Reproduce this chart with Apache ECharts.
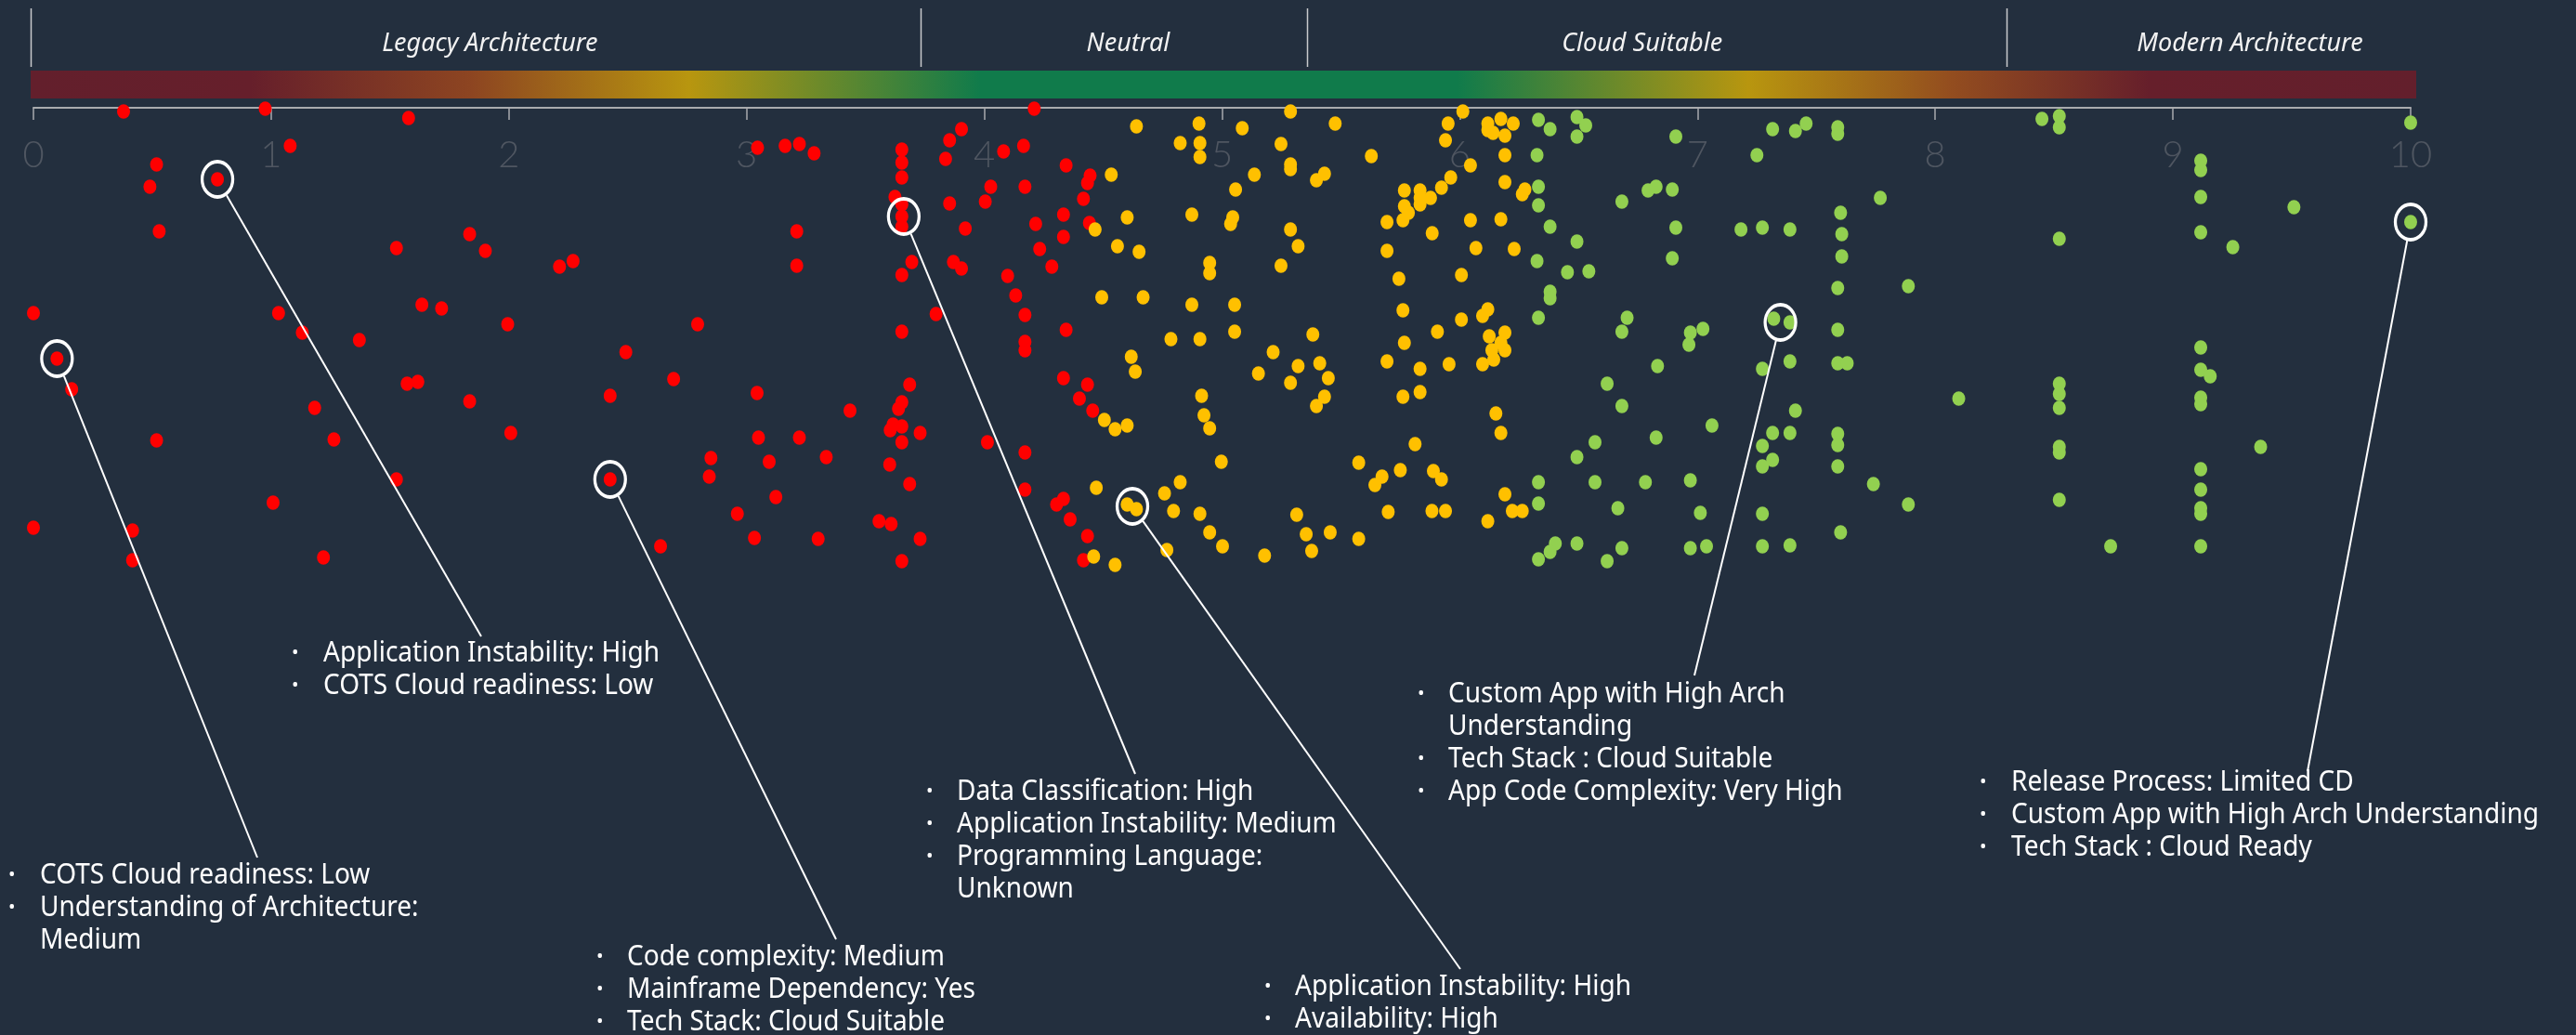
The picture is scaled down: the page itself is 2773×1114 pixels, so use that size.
<!DOCTYPE html>
<html>
<head>
<meta charset="utf-8">
<script src="https://cdn.jsdelivr.net/npm/echarts@6/dist/echarts.min.js"></script>
<style>
html,body{margin:0;padding:0;background:#232f3e;}
#chart{width:2773px;height:1114px;}
</style>
</head>
<body>
<div id="chart"></div>
<script>
// ---------- DATA (x = score 0..10, y = vertical jitter offset below the axis) ----------
const tickLabels = ['0','1','2','3','4','5','6','7','8','9','10'];

const redPoints = [
[0.379,4],[0.975,1],[1.578,11],[1.08,41],[0.518,61],[0.774,77],[0.49,85],[0.529,133],[1.835,136],[1.527,151],
[1.901,154],[2.213,171],[2.27,165],[0.0,221],[1.031,221],[1.634,212],[1.717,216],[1.995,233],[1.131,242],[1.371,250],
[0.099,270],[0.161,303],[1.572,297],[1.617,295],[1.183,323],[1.835,316],[2.008,350],[1.264,357],[0.518,358],[1.527,400],
[1.008,425],[0.0,452],[0.417,455],[0.417,487],[1.22,484],
[3.046,43],[3.162,41],[3.222,39],[3.284,49],[3.653,45],[3.653,59],[3.653,75],[3.624,96],[3.653,104],[3.653,117],
[3.653,128],[3.904,23],[3.854,35],[3.837,55],[4.081,47],[4.165,41],[4.21,1],[4.344,62],[4.027,85],[4.171,85],
[4.004,101],[3.854,103],[3.92,130],[4.216,125],[4.333,115],[4.445,73],[4.434,81],[4.417,98],[4.442,124],[4.333,139],
[4.233,152],[4.284,171],[3.87,166],[3.904,173],[3.695,166],[3.653,180],[3.211,133],[3.211,170],[4.098,181],[4.132,202],
[4.171,223],[3.797,222],[3.653,241],[4.344,239],[4.171,252],[4.171,261],[2.794,233],[2.492,263],[2.693,292],[2.426,310],
[3.044,307],[3.435,326],[3.686,298],[3.653,317],[3.639,324],[3.616,341],[3.604,347],[3.653,343],[3.73,350],[3.653,360],
[3.05,355],[3.222,355],[2.85,377],[2.843,397],[3.095,381],[3.335,376],[2.426,400],[3.123,419],[2.961,437],[2.638,472],
[3.033,463],[3.301,464],[3.557,445],[3.608,448],[3.73,464],[3.653,488],[3.602,384],[3.686,405],[4.013,360],[4.171,371],
[4.171,411],[4.333,291],[4.434,298],[4.4,313],[4.456,326],[4.333,421],[4.304,427],[4.361,443],[4.434,461],[4.417,487]
];

const yellowPoints = [
[4.534,72],[4.466,131],[4.56,149],[4.494,204],[4.505,336],[4.471,409],[4.46,483],[4.55,346],[4.55,492],
[4.64,20],[4.903,17],[4.824,38],[4.907,38],[4.907,53],[5.085,22],[5.288,4],[5.476,17],[5.248,39],[5.288,61],
[5.288,66],[5.136,72],[5.431,71],[5.397,78],[5.057,88],[5.628,52],[4.601,118],[4.873,115],[5.045,118],[5.036,125],
[5.288,131],[5.32,149],[4.651,155],[4.948,167],[4.948,178],[5.248,170],[4.668,204],[4.873,212],[5.053,212],[5.053,241],
[4.785,249],[4.907,249],[5.382,244],[4.618,268],[4.635,284],[5.215,263],[5.153,286],[5.32,278],[5.411,275],[5.447,291],
[5.288,296],[5.431,311],[5.397,321],[4.914,310],[4.924,331],[4.948,345],[4.601,342],[4.997,381],[4.824,403],[4.758,415],
[4.601,427],[4.64,432],[4.796,434],[4.907,437],[4.948,457],[5.002,472],[4.768,476],[5.179,482],[5.314,438],[5.354,459],
[5.377,477],[5.455,457],[5.575,464],[5.575,382],[5.673,397],[5.643,406],[5.75,390],[5.812,362],[5.889,391],[5.923,400],
[5.699,435],[5.883,434],[5.94,434],[6.118,445],[6.19,416],[6.221,434],[6.263,434],[6.152,329],[6.173,350],[5.761,311],
[5.833,306],[5.694,273],[5.833,281],[5.955,276],[5.767,253],[5.906,241],[6.007,228],[6.096,224],[6.118,217],[6.124,246],
[6.19,242],[6.135,261],[6.19,261],[6.096,276],[6.143,271],[6.173,253],[5.761,218],[5.744,184],[5.694,154],[5.694,123],
[5.761,121],[5.784,113],[5.767,106],[5.767,89],[5.833,89],[5.833,104],[5.833,97],[5.877,97],[5.923,86],[5.962,75],
[6.045,62],[5.884,135],[6.045,121],[6.173,120],[6.068,151],[6.229,152],[6.007,180],[6.19,80],[6.263,93],[6.274,88],
[6.19,51],[5.94,35],[5.951,17],[6.013,4],[6.118,17],[6.118,24],[6.14,27],[6.173,12],[6.225,17],[6.19,30]
];

const greenPoints = [
[6.331,13],[6.38,23],[6.493,10],[6.53,19],[6.493,31],[6.325,51],[6.909,31],[6.331,85],[6.331,105],[6.38,128],
[6.682,101],[6.792,89],[6.826,85],[6.894,88],[6.909,129],[6.894,162],[6.493,144],[6.325,165],[6.453,177],[6.543,176],
[6.38,198],[6.38,205],[6.331,226],[6.704,226],[6.682,241],[6.832,278],[6.62,297],[6.682,321],[6.826,355],[6.569,360],
[6.493,376],[6.331,403],[6.569,403],[6.781,403],[6.331,426],[6.665,431],[6.402,469],[6.38,478],[6.331,486],[6.493,469],
[6.682,474],[6.62,488],
[7.316,23],[7.412,25],[7.457,17],[7.59,21],[7.59,28],[7.25,51],[8.449,12],[8.522,9],[8.522,21],[9.117,57],
[9.117,67],[9.117,96],[9.117,134],[9.252,150],[8.522,141],[7.769,97],[7.602,113],[7.607,136],[7.607,160],[7.59,194],
[7.887,192],[7.183,131],[7.273,129],[7.389,131],[7.321,227],[7.389,231],[7.59,239],[7.023,238],[6.97,242],[6.964,255],
[7.389,273],[7.273,281],[7.59,275],[7.63,275],[8.099,313],[8.522,297],[8.522,308],[8.522,323],[9.117,258],[9.117,282],
[9.157,289],[9.117,312],[9.117,319],[7.412,326],[7.061,342],[7.316,350],[7.389,350],[7.59,351],[7.59,363],[7.273,364],
[7.316,379],[7.273,386],[7.59,386],[8.522,365],[8.522,371],[6.97,401],[7.74,405],[7.887,427],[8.522,422],[9.117,389],
[9.117,411],[9.117,431],[9.117,437],[7.012,436],[7.273,437],[7.602,457],[6.97,474],[7.038,472],[7.273,472],[7.389,471],
[8.738,472],[9.117,472],[10,16],[10,123],[9.509,107],[9.369,365]
];

// highlighted (ringed) applications
const ringPoints = [[0.099,270],[0.774,77],[2.426,400],[3.661,117],[4.623,429],[7.349,231],[10,123]];

// annotation texts: each annotation = list of bullets, each bullet = list of wrapped lines
const annotationTexts = [
  [['COTS Cloud readiness: Low'],['Understanding of Architecture:','Medium']],
  [['Application Instability: High'],['COTS Cloud readiness: Low']],
  [['Code complexity: Medium'],['Mainframe Dependency: Yes'],['Tech Stack: Cloud Suitable']],
  [['Data Classification: High'],['Application Instability: Medium'],['Programming Language:','Unknown']],
  [['Application Instability: High'],['Availability: High']],
  [['Custom App with High Arch','Understanding'],['Tech Stack : Cloud Suitable'],['App Code Complexity: Very High']],
  [['Release Process: Limited CD'],['Custom App with High Arch Understanding'],['Tech Stack : Cloud Ready']]
];

// section bands along the score axis
const sectionNames = ['Legacy Architecture','Neutral','Cloud Suitable','Modern Architecture'];
const sectionLabelX = [1.92, 4.605, 6.767, 9.324];
const sectionDividerX = [-0.012, 3.733, 5.356, 8.3];

// ---------- LAYOUT / STYLE ----------
const annoLayout = [
  {end:[277,923], bx:9,    tx:43,   y:942},
  {end:[518,685], bx:314,  tx:348,  y:703},
  {end:[900,1011],bx:642,  tx:675,  y:1030},
  {end:[1222,833],bx:997,  tx:1030, y:852},
  {end:[1572,1043],bx:1361,tx:1394, y:1062},
  {end:[1824,727],bx:1526, tx:1559, y:747},
  {end:[2484,830],bx:2131, tx:2165, y:842}
];
const LINE_H = 35;
const TEXT_SIZE = 30;
const TEXT_SCALE = 0.935;
const TEXT_FONT = '"Noto Sans", "Open Sans", sans-serif';

const gradientStops = [
  [0,'#631f2c'],[0.092,'#661f2b'],[0.185,'#8d4521'],[0.276,'#b8960f'],[0.398,'#107b4b'],
  [0.598,'#107b4b'],[0.72,'#b8960f'],[0.805,'#934d1f'],[0.888,'#661f2b'],[1,'#631f2c']
];

const chart = echarts.init(document.getElementById('chart'), null, {renderer:'canvas'});
const dotSize = [14, 15.5];

const option = {
  backgroundColor: '#232f3e',
  animation: false,
  grid: {left: 36, right: 178, top: 116, bottom: 0, containLabel: false},
  xAxis: {
    type: 'value', min: 0, max: 10, interval: 1, position: 'top',
    splitLine: {show: false},
    axisLine: {show: true, onZero: false, lineStyle: {color: '#a9abae', width: 2}},
    axisTick: {show: true, inside: true, length: 13, lineStyle: {color: '#a9abae', width: 1.5}},
    axisLabel: {
      show: true, inside: true, margin: 51, verticalAlign: 'middle',
      color: '#4f5661', fontSize: 40, fontFamily: 'Lato, "Noto Sans", sans-serif', fontWeight: 300,
      formatter: (v) => tickLabels[Math.round(v)]
    }
  },
  yAxis: {type: 'value', min: 0, max: 998, inverse: true, show: false},
  series: [
    {type: 'scatter', name: 'Legacy', data: redPoints, symbolSize: dotSize, clip: false,
     itemStyle: {color: '#ff0000', opacity: 1}, z: 3},
    {type: 'scatter', name: 'Neutral', data: yellowPoints, symbolSize: dotSize, clip: false,
     itemStyle: {color: '#ffc000', opacity: 1}, z: 3},
    {type: 'scatter', name: 'Cloud', data: greenPoints, symbolSize: dotSize, clip: false,
     itemStyle: {color: '#92d050', opacity: 1}, z: 3},
    {type: 'scatter', name: 'Highlight', data: ringPoints, symbolSize: [33, 38], clip: false,
     itemStyle: {color: 'rgba(0,0,0,0)', borderColor: '#ffffff', borderWidth: 3.5, opacity: 1}, z: 5}
  ]
};
chart.setOption(option);

function px(v){ return chart.convertToPixel({gridIndex:0}, v); }

const graphics = [];
// gradient band
const bx0 = px([0,0])[0] - 3, bx1 = px([10,0])[0] + 6;
graphics.push({
  type: 'rect', shape: {x: bx0, y: 76, width: bx1 - bx0, height: 30}, z: 1, silent: true,
  style: {fill: new echarts.graphic.LinearGradient(0,0,1,0,
    gradientStops.map(s => ({offset: s[0], color: s[1]})))}
});
// section dividers and labels
sectionDividerX.forEach(v => {
  const x = Math.round(px([v,0])[0]) + 0.5;
  graphics.push({type:'line', shape:{x1:x, y1:9, x2:x, y2:72}, z:1, silent:true,
    style:{stroke:'#c8cacd', lineWidth:1.5}});
});
sectionNames.forEach((name, i) => {
  const x = px([sectionLabelX[i],0])[0];
  graphics.push({type:'text', x: x, y: 47, z: 2, silent: true,
    style:{text: name, fill:'#f2f2f2', fontSize: 27, fontStyle:'italic',
      fontFamily: TEXT_FONT, align:'center', verticalAlign:'middle'}});
});
// leader lines + annotation texts
ringPoints.forEach((rp, i) => {
  const c = px(rp);
  const L = annoLayout[i];
  const dx = L.end[0] - c[0], dy = L.end[1] - c[1];
  const len = Math.hypot(dx, dy), ux = dx/len, uy = dy/len;
  const r = 1/Math.sqrt((ux/18)*(ux/18) + (uy/20.5)*(uy/20.5));
  graphics.push({type:'line', z: 4, silent: true,
    shape:{x1: c[0] + ux*r, y1: c[1] + uy*r, x2: L.end[0], y2: L.end[1]},
    style:{stroke:'#ffffff', lineWidth: 2}});
  let row = 0;
  annotationTexts[i].forEach(bullet => {
    bullet.forEach((line, j) => {
      const y = L.y + row*LINE_H;
      if (j === 0) {
        graphics.push({type:'text', x: L.bx, y: y, z: 4, silent: true,
          style:{text:'•', fill:'#ffffff', fontSize: 20, fontFamily: TEXT_FONT, align:'left', verticalAlign:'middle'}});
      }
      graphics.push({type:'text', x: L.tx, y: y, z: 4, silent: true, scaleX: TEXT_SCALE,
        style:{text: line, fill:'#ffffff', fontSize: TEXT_SIZE, fontFamily: TEXT_FONT, align:'left', verticalAlign:'middle'}});
      row++;
    });
  });
});
chart.setOption({graphic: graphics});
</script>
</body>
</html>
